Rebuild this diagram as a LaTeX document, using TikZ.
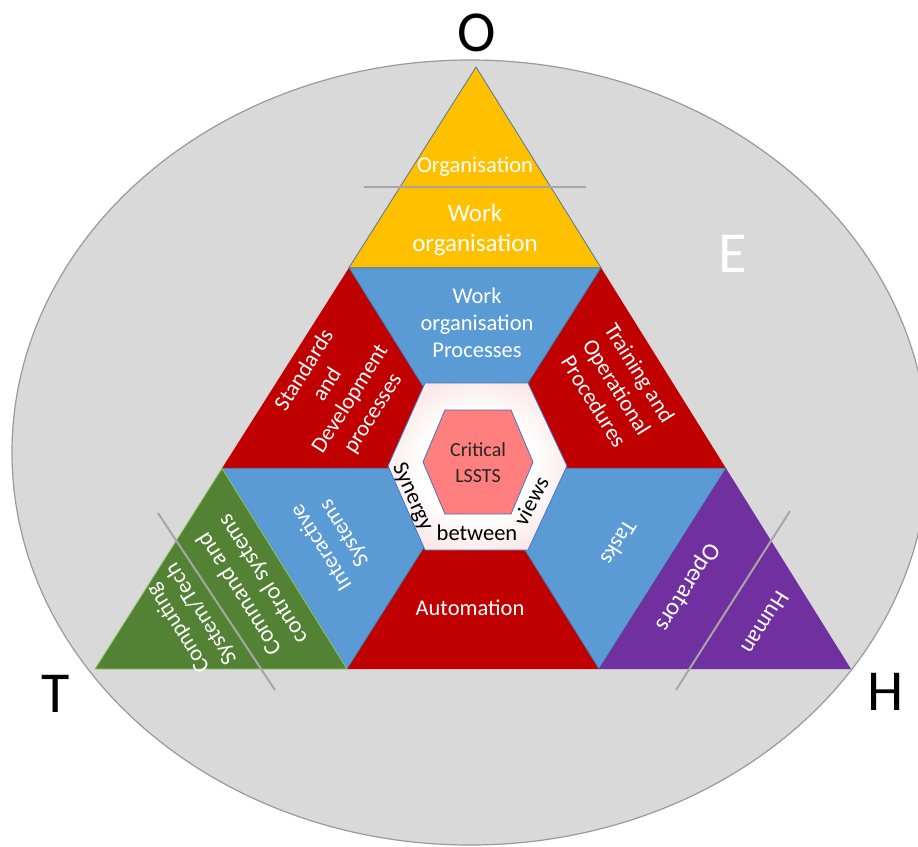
\documentclass[tikz,border=0pt]{standalone}
\usepackage{fontspec}
\setmainfont{Carlito}
\usetikzlibrary{calc}
\definecolor{ellgray}{HTML}{D9D9D9}
\definecolor{ellline}{HTML}{9A9A9A}
\definecolor{oyellow}{HTML}{FFC000}
\definecolor{ored}{HTML}{C00000}
\definecolor{oblue}{HTML}{5B9BD5}
\definecolor{ogreen}{HTML}{548235}
\definecolor{ogreenline}{HTML}{8FCB6A}
\definecolor{opurple}{HTML}{7030A0}
\definecolor{edgeblue}{HTML}{41719C}
\definecolor{hexpink}{RGB}{240,194,194}
\definecolor{hexmid}{RGB}{250,230,230}
\definecolor{corepink}{HTML}{FF7F7F}
\definecolor{hexline}{HTML}{4472C4}
\definecolor{divgray}{HTML}{A6A6A6}
\pgfdeclareradialshading{hexshade}{\pgfpoint{0bp}{0bp}}{color(0bp)=(white); color(16bp)=(white); color(28bp)=(hexmid); color(42bp)=(hexpink); color(50bp)=(hexpink)}
\begin{document}
\begin{tikzpicture}[x=1pt,y=-1pt,
  tile/.style={draw=edgeblue, line width=0.8pt, line join=round},
  divider/.style={draw=divgray, line width=2pt},
  lbl/.style={text=white, align=center, inner sep=0pt, font=\fontsize{22.5}{27}\selectfont},
  dark/.style={text=black, align=center, inner sep=0pt, font=\fontsize{22.5}{27}\selectfont},
  corner/.style={inner sep=0pt, font=\fontsize{58}{60}\selectfont}]
\useasboundingbox (0,0) rectangle (918,846);
\clip (0,0) rectangle (918,846);
\fill[white] (0,0) rectangle (918,846);
% background ellipse
\filldraw[fill=ellgray, draw=ellline, line width=1.2pt] (470,452.5) ellipse [x radius=458, y radius=392.5];
% triangle grid
\coordinate (A) at (476,67);
\coordinate (L) at (95,669);
\coordinate (R) at (851,669);
\coordinate (P1) at ($(A)!1/3!(L)$);
\coordinate (P2) at ($(A)!1/3!(R)$);
\coordinate (Q1) at ($(A)!2/3!(L)$);
\coordinate (Q3) at ($(A)!2/3!(R)$);
\coordinate (Q2) at ($(Q1)!0.5!(Q3)$);
\coordinate (B1) at ($(L)!1/3!(R)$);
\coordinate (B2) at ($(L)!2/3!(R)$);
\fill[ored] (P1) -- (Q1) -- (Q2) -- cycle;
\fill[ored] (P2) -- (Q2) -- (Q3) -- cycle;
\fill[ored] (Q2) -- (B1) -- (B2) -- cycle;
\filldraw[tile, fill=oblue] (P1) -- (P2) -- (Q2) -- cycle;
\filldraw[tile, fill=oblue] (Q1) -- (Q2) -- (B1) -- cycle;
\filldraw[tile, fill=oblue] (Q2) -- (Q3) -- (B2) -- cycle;
\filldraw[tile, fill=oyellow, draw=edgeblue!70!gray] (A) -- (P1) -- (P2) -- cycle;
\filldraw[fill=ogreen, draw=ogreenline, line width=0.8pt] (Q1) -- (L) -- (B1) -- cycle;
\fill[opurple] (Q3) -- (B2) -- (R) -- cycle;
% hexagons
\shade[shading=hexshade] (388,466) -- (425,383) -- (528,383) -- (567,466) -- (528,550) -- (425,550) -- cycle;
\draw[hexline, line width=0.8pt] (388,466) -- (425,383) -- (528,383) -- (567,466) -- (528,550) -- (425,550) -- cycle;
\filldraw[fill=corepink, draw=hexline, line width=0.8pt] (423,462) -- (445,410) -- (511,410) -- (533,462) -- (511,514) -- (445,514) -- cycle;
% divider lines
\coordinate (d1a) at (364,187); \coordinate (d1b) at (586,187);
\coordinate (d2a) at (158,513); \coordinate (d2b) at (275,690);
\coordinate (d3a) at (790,511); \coordinate (d3b) at (676,690);
\draw[divider] (d1a) -- (d1b);
\draw[divider] (d2a) -- (d2b);
\draw[divider] (d3a) -- (d3b);
% labels
\node[lbl] (org) at (475,167) {Organisation};
\node[lbl, font=\fontsize{25}{30}\selectfont] (worg) at (475,230) {Work\\organisation};
\node[lbl] (wop) at (477,323) {Work\\organisation\\Processes};
\node[lbl, rotate=57.7] (std) at (339,392) {Standards\\and\\Development\\processes};
\node[lbl, rotate=-58] (trn) at (617,387) {Training and\\Operational\\Procedures};
\node[lbl, rotate=122] (isys) at (333,540) {Interactive\\Systems};
\node[lbl, rotate=122, font=\fontsize{23.5}{28}\selectfont] (cmd) at (252,586) {Command and\\control systems};
\node[lbl, rotate=122] (cmp) at (190,621) {Computing\\System/Tech};
\node[lbl] (aut) at (470,608) {Automation};
\node[lbl, rotate=-122] (tsk) at (619,543) {Tasks};
\node[lbl, rotate=-122, font=\fontsize{24.5}{28}\selectfont] (ops) at (687,587) {Operators};
\node[lbl, rotate=-122, font=\fontsize{23.5}{28}\selectfont] (hum) at (765,623) {Human};
\node[dark, font=\fontsize{20}{26}\selectfont, text=black!85] (crit) at (478,463) {Critical\\LSSTS};
\node[dark, rotate=-66] (syn) at (412,497) {Synergy};
\node[dark] (btw) at (477,533) {between};
\node[dark, rotate=62] (vws) at (531,501) {views};
% corner letters
\node[corner] (O) at (477,33) {O};
\node[corner] (T) at (56,694) {T};
\node[corner] (H) at (886,692) {H};
\node[corner, text=white] (E) at (733,254) {E};
\end{tikzpicture}
\end{document}
